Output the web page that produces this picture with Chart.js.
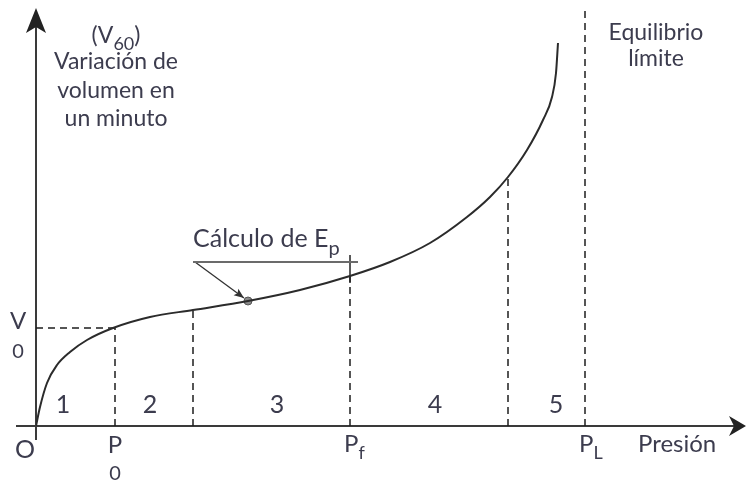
<!DOCTYPE html>
<html lang="es">
<head>
<meta charset="utf-8">
<script src="https://cdn.jsdelivr.net/npm/chart.js@4.4.0/dist/chart.umd.min.js"></script>
<style>
  body { margin: 0; background: #fff; }
  canvas { display: block; }
</style>
</head>
<body>
<canvas id="chart" width="746" height="481"></canvas>
<script>
// Curva presiométrica: presión aplicada vs variación de volumen en un minuto
const presion = [0, 4, 11, 21, 34, 51, 77, 114, 157, 212, 264, 314, 354, 394, 431, 454, 472, 491, 507, 516, 520, 522];
const volumen = [0, 19, 43, 61, 74, 86, 98, 109, 116, 125, 136, 150, 164, 183, 209, 229, 249, 276, 306, 329, 353, 383];

// límites de zona: P0, fin zona 2, Pf, fin zona 4
const cortes = [79, 157, 314, 472];
const presionLimite = 549;
const V0 = 98;
const zonas = ['1', '2', '3', '4', '5'];
const zonaX = [27, 114, 241, 399, 520];
const puntoEp = { x: 212, y: 125 };
const lineaEp = { x0: 157, x1: 322, y: 164 };

const TEXT = '#3c3c4e';
const FONT = 'Lato, "Open Sans", sans-serif';

const curva = presion.map((x, i) => ({ x, y: volumen[i] }));
const alturaEn = x => {
  const i = presion.findIndex(p => p >= x);
  if (presion[i] === x) return volumen[i];
  const t = (x - presion[i - 1]) / (presion[i] - presion[i - 1]);
  return volumen[i - 1] + t * (volumen[i] - volumen[i - 1]);
};

const discontinua = pts => ({
  data: pts, borderColor: '#1e1e1e', borderWidth: 1.5, borderDash: [7, 5], pointRadius: 0
});

function texto(ctx, s, x, y, size, align = 'left') {
  ctx.font = size + 'px ' + FONT;
  ctx.textAlign = align;
  ctx.textBaseline = 'alphabetic';
  ctx.fillStyle = TEXT;
  ctx.fillText(s, x, y);
  return ctx.measureText(s).width;
}

// texto con subíndice, centrado o alineado a la izquierda
function conSub(ctx, base, sub, x, y, size, subSize, subDy, align = 'left', tail = '') {
  ctx.font = size + 'px ' + FONT;
  const wb = ctx.measureText(base).width;
  const wt = ctx.measureText(tail).width;
  ctx.font = subSize + 'px ' + FONT;
  const ws = ctx.measureText(sub).width;
  const x0 = align === 'center' ? x - (wb + ws + wt) / 2 : x;
  texto(ctx, base, x0, y, size);
  texto(ctx, sub, x0 + wb, y + subDy, subSize);
  if (tail) texto(ctx, tail, x0 + wb + ws, y, size);
}

function flecha(ctx, tip, ang, len, half, notch) {
  ctx.save();
  ctx.translate(tip[0], tip[1]);
  ctx.rotate(ang);
  ctx.beginPath();
  ctx.moveTo(0, 0);
  ctx.lineTo(-len, -half);
  ctx.lineTo(-len + notch, 0);
  ctx.lineTo(-len, half);
  ctx.closePath();
  ctx.fill();
  ctx.restore();
}

const ejes = {
  id: 'ejes',
  beforeDatasetsDraw(chart) {
    const { ctx, scales: { x, y } } = chart;
    const ox = x.getPixelForValue(0), oy = y.getPixelForValue(0);
    ctx.save();
    ctx.strokeStyle = '#3a3a3a';
    ctx.fillStyle = '#222';
    ctx.lineWidth = 2;
    ctx.beginPath();
    ctx.moveTo(16, oy);
    ctx.lineTo(738, oy);
    ctx.moveTo(ox, 440);
    ctx.lineTo(ox, 16);
    ctx.stroke();
    flecha(ctx, [746, oy], 0, 17, 10, 5);
    flecha(ctx, [ox, 8], -Math.PI / 2, 25, 10, 6);
    ctx.restore();
  },
  afterDraw(chart) {
    const { ctx, scales: { x, y } } = chart;
    const px = v => x.getPixelForValue(v), py = v => y.getPixelForValue(v);
    ctx.save();

    // punta de la flecha hacia E_p
    const a = [px(lineaEp.x0 + 2), py(lineaEp.y)];
    const b = [px(puntoEp.x - 4), py(puntoEp.y + 3)];
    ctx.fillStyle = '#333';
    flecha(ctx, b, Math.atan2(b[1] - a[1], b[0] - a[0]), 10, 4, 2);

    // título del eje vertical
    conSub(ctx, '(V', '60', 116, 43, 23, 18, 7, 'center', ')');
    texto(ctx, 'Variación de', 116, 69, 23, 'center');
    texto(ctx, 'volumen en', 116, 98, 23, 'center');
    texto(ctx, 'un minuto', 116, 126, 23, 'center');

    texto(ctx, 'Equilibrio', 656, 40, 23, 'center');
    texto(ctx, 'límite', 656, 66, 23, 'center');

    texto(ctx, 'Presión', 638, 452, 24);
    texto(ctx, 'O', 25, 458, 25, 'center');

    // V0 y P0 con el subíndice debajo
    texto(ctx, 'V', 18, 329, 24, 'center');
    texto(ctx, '0', 18, 358, 20, 'center');
    texto(ctx, 'P', px(cortes[0]), 453, 24, 'center');
    texto(ctx, '0', px(cortes[0]), 480, 20, 'center');

    conSub(ctx, 'P', 'f', px(cortes[2]) - 6, 452, 24, 18, 7);
    conSub(ctx, 'P', 'L', px(presionLimite) - 6, 452, 24, 18, 7);

    conSub(ctx, 'Cálculo de E', 'p', 193, 247, 25, 20, 8);

    zonas.forEach((z, i) => texto(ctx, z, px(zonaX[i]), py(13), 25, 'center'));
    ctx.restore();
  }
};

new Chart(document.getElementById('chart'), {
  type: 'line',
  data: {
    datasets: [
      { data: curva, borderColor: '#2b2b2b', borderWidth: 2, cubicInterpolationMode: 'monotone', pointRadius: 0 },
      discontinua([{ x: 0, y: V0 }, { x: cortes[0], y: V0 }]),
      ...cortes.map(c => discontinua([{ x: c, y: 0 }, { x: c, y: alturaEn(c) }])),
      discontinua([{ x: presionLimite, y: 0 }, { x: presionLimite, y: 416 }]),
      { data: [{ x: lineaEp.x0, y: lineaEp.y }, { x: lineaEp.x1, y: lineaEp.y }], borderColor: '#6b6b6b', borderWidth: 2, pointRadius: 0 },
      { data: [{ x: cortes[2], y: alturaEn(cortes[2]) - 7 }, { x: cortes[2], y: lineaEp.y + 7 }], borderColor: '#222', borderWidth: 1.5, pointRadius: 0 },
      { data: [{ x: lineaEp.x0 + 2, y: lineaEp.y }, { x: puntoEp.x - 4, y: puntoEp.y + 3 }], borderColor: '#333', borderWidth: 1.3, pointRadius: 0 },
      { data: [puntoEp], showLine: false, pointRadius: 4, pointBackgroundColor: '#8a8a8a', pointBorderColor: '#555', pointBorderWidth: 1 }
    ]
  },
  options: {
    responsive: false,
    animation: false,
    layout: { autoPadding: false, padding: { left: 36, right: 0, top: 0, bottom: 55 } },
    plugins: { legend: { display: false }, tooltip: { enabled: false } },
    scales: {
      x: { type: 'linear', min: 0, max: 710, display: false },
      y: { type: 'linear', min: 0, max: 426, display: false }
    }
  },
  plugins: [ejes]
});
</script>
</body>
</html>
